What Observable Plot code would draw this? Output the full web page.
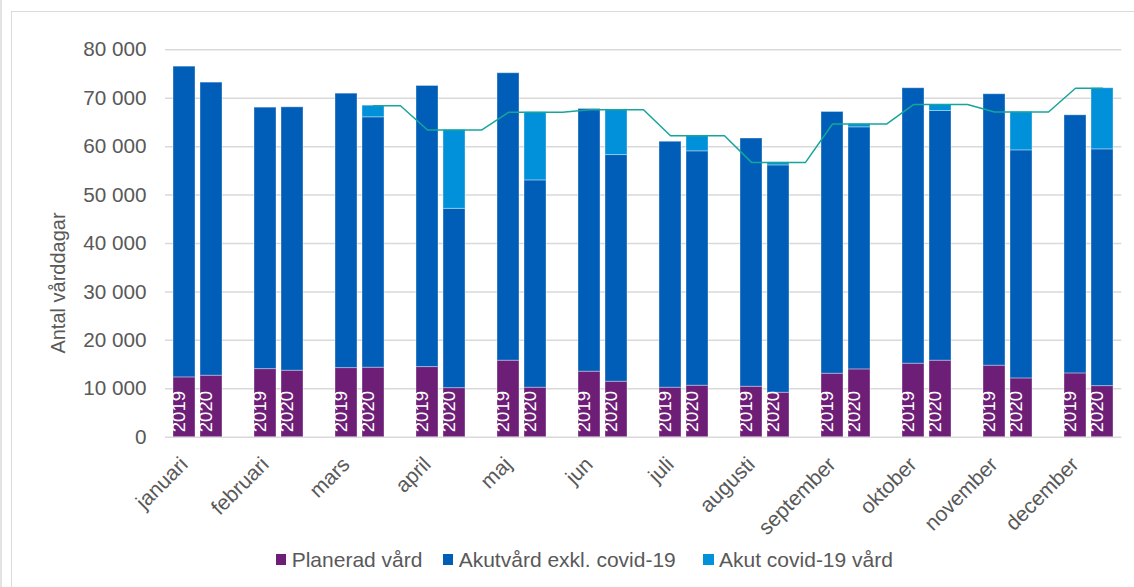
<!DOCTYPE html>
<html><head><meta charset="utf-8">
<script src="https://cdn.jsdelivr.net/npm/d3@7"></script>
<script src="https://cdn.jsdelivr.net/npm/@observablehq/plot@0.6"></script>
<style>
html,body{margin:0;padding:0;background:#fff;overflow:hidden;width:1134px;height:587px;}
#wrap{position:relative;width:1134px;height:587px;font-family:"Liberation Sans",Arial,sans-serif;overflow:hidden;}
#outer{position:absolute;left:0;top:-5px;width:2px;height:620px;background:#e3e3e3;}
#box{position:absolute;left:10.5px;top:11px;width:1200px;height:700px;border:1.5px solid #dadada;box-sizing:border-box;}
#chart{position:absolute;left:0;top:0;}
#ylab{position:absolute;left:58px;top:282.5px;transform:translate(-50%,-50%) rotate(-90deg);font-size:20px;color:#595959;white-space:nowrap;}
.leg{position:absolute;top:559.5px;transform:translateY(-50%);display:flex;align-items:center;font-size:21px;color:#595959;white-space:nowrap;}
.leg .sw{display:inline-block;width:10.5px;height:10.5px;margin-right:5.5px;}
</style></head><body>
<div id="wrap"><div id="outer"></div><div id="box"></div><div id="chart"></div><div id="ylab">Antal vårddagar</div><div id="legend"></div></div>
<script>
// ---- data ----
const manader = ["januari","februari","mars","april","maj","jun","juli","augusti","september","oktober","november","december"];
const ar = ["2019","2020"];
const serier = ["Planerad vård","Akutvård exkl. covid-19","Akut covid-19 vård"];
const farger = ["#6d1f78","#005eb8","#0091da"];
const planerad2019  = [12350,14060,14270,14480,15800,13530,10220,10420,13110,15180,14770,13170];
const akutExkl2019  = [64170,53990,56670,58050,59360,54250,50790,51260,54050,56880,56050,53300];
const planerad2020  = [12700,13730,14350,10130,10220,11460,10630, 9180,14000,15800,12140,10550];
const akutExkl2020  = [60520,54390,51710,37030,42810,46800,48400,46950,49990,51560,47090,48890];
const covid2020     = [    0,    0, 2400,16270,14060, 9370, 3220,  620,  680, 1240, 7930,12620];
const linje2020     = [null, null, 68460,63430,67090,67630,62250,56750,64670,68700,67160,72060];
const yTicks = [0,10000,20000,30000,40000,50000,60000,70000,80000];
const legendLeft = [275.7, 442.7, 703];

// ---- build tables ----
const slot = (m, k) => `${m} ${k}`;
const slots = [];
manader.forEach((m, i) => {
  slots.push(slot(m, ar[0]), slot(m, ar[1]));
  if (i < manader.length - 1) slots.push(slot(m, "gap"));
});
const rows = [];
manader.forEach((m, i) => {
  rows.push({slot: slot(m, ar[0]), serie: serier[0], v: planerad2019[i]});
  rows.push({slot: slot(m, ar[0]), serie: serier[1], v: akutExkl2019[i]});
  rows.push({slot: slot(m, ar[1]), serie: serier[0], v: planerad2020[i]});
  rows.push({slot: slot(m, ar[1]), serie: serier[1], v: akutExkl2020[i]});
  rows.push({slot: slot(m, ar[1]), serie: serier[2], v: covid2020[i]});
});
const yearLabels = [];
manader.forEach(m => ar.forEach(a => yearLabels.push({slot: slot(m, a), text: a})));
const linePts = [];
manader.forEach((m, i) => {
  const v = linje2020[i];
  if (v == null) return;
  if (i > 0 && linje2020[i - 1] != null) linePts.push({slot: slot(m, ar[0]), v});
  linePts.push({slot: slot(m, ar[1]), v});
  if (i < manader.length - 1) linePts.push({slot: slot(m, "gap"), v});
});
const fmt = d => d3.format(",")(d).replace(/,/g, " ");

const chart = Plot.plot({
  width: 1134,
  height: 535,
  marginTop: 49.3,
  marginBottom: 98.3,
  marginLeft: 165,
  marginRight: 12.7,
  style: {fontFamily: '"Liberation Sans", Arial, sans-serif', fontSize: "20.7px", color: "#595959", background: "transparent", overflow: "visible"},
  x: {domain: slots, axis: null, paddingInner: 0.17, paddingOuter: 0.085},
  y: {domain: [0, 80000], ticks: yTicks, tickFormat: fmt, tickSize: 0, tickPadding: 19, label: null},
  color: {domain: serier, range: farger},
  marks: [
    Plot.ruleY(yTicks, {stroke: "#d9d9d9", strokeWidth: 1.5}),
    Plot.barY(rows, {x: "slot", y: "v", fill: "serie", stroke: "white", strokeOpacity: 0.35, strokeWidth: 1}),
    Plot.text(yearLabels, {x: "slot", frameAnchor: "bottom", text: "text", rotate: -90, textAnchor: "start", dy: -5, fill: "white", fontSize: 18.5}),
    Plot.line(linePts, {x: "slot", y: "v", stroke: "#17a59b", strokeWidth: 1.5}),
    Plot.text(manader, {x: m => slot(m, ar[0]), frameAnchor: "bottom", text: m => m, rotate: -45, textAnchor: "end", lineAnchor: "top", dx: -6, dy: 18, fill: "#595959", fontSize: 21})
  ]
});
document.getElementById("chart").appendChild(chart);

const leg = document.getElementById("legend");
serier.forEach((s, i) => {
  const d = document.createElement("div");
  d.className = "leg";
  d.style.left = legendLeft[i] + "px";
  d.innerHTML = `<span class="sw" style="background:${farger[i]}"></span><span>${s}</span>`;
  leg.appendChild(d);
});
</script>
</body></html>
